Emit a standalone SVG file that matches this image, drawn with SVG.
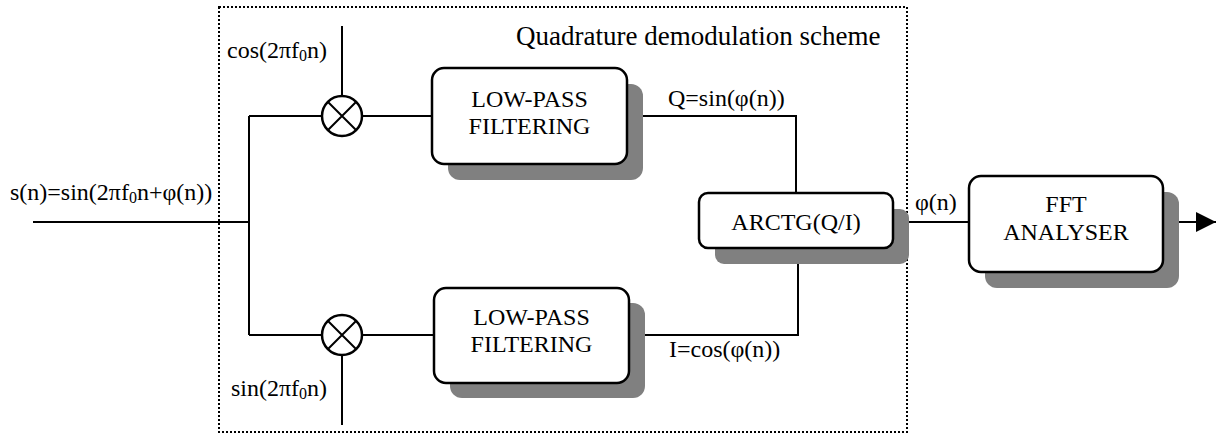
<svg xmlns="http://www.w3.org/2000/svg" width="1218" height="435" viewBox="0 0 1218 435">
<style>
text{font-family:"Liberation Serif","Times New Roman",serif;font-size:24px;fill:#000}
.c{text-anchor:middle}
.ttl{font-size:27px}
.ln{stroke:#000;stroke-width:2;fill:none}
.box{fill:#fff;stroke:#000;stroke-width:2.5}
.sh{fill:#808080}
.sub{font-size:16px}
</style>
<defs>
<marker id="arr" markerWidth="20" markerHeight="20" refX="20" refY="10" orient="auto" markerUnits="userSpaceOnUse">
<path d="M0,0 L20,10 L0,20 Z" fill="#000"/>
</marker>
</defs>
<rect x="219" y="7" width="688" height="425" fill="none" stroke="#000" stroke-width="2" stroke-dasharray="2,2"/>
<text class="ttl" x="516" y="45">Quadrature demodulation scheme</text>
<g id="connectors" class="ln">
<line x1="33" y1="222" x2="249" y2="222"/>
<line x1="249" y1="116" x2="249" y2="335"/>
<line x1="249" y1="116" x2="322" y2="116"/>
<line x1="362" y1="116" x2="432" y2="116"/>
<line x1="342" y1="26" x2="342" y2="96"/>
<line x1="249" y1="335" x2="322" y2="335"/>
<line x1="362" y1="335" x2="434" y2="335"/>
<line x1="342" y1="355" x2="342" y2="425"/>
<polyline points="627,116 796,116 796,193"/>
<polyline points="629,335 798,335 798,248"/>
<line x1="893" y1="222" x2="969" y2="222"/>
<line x1="1163" y1="222" x2="1216" y2="222" marker-end="url(#arr)"/>
</g>
<g id="input-label"><text x="10" y="200">s(n)=sin(2πf<tspan class="sub" dy="3">0</tspan><tspan dy="-3">n+φ(n))</tspan></text></g>
<g id="mixer-top">
<circle cx="342" cy="116" r="20" fill="#fff" stroke="#000" stroke-width="2.5"/>
<path d="M328,102 L356,130 M356,102 L328,130" class="ln" stroke-width="2.5"/>
<text x="227" y="58">cos(2πf<tspan class="sub" dy="3">0</tspan><tspan dy="-3">n)</tspan></text>
</g>
<g id="mixer-bottom">
<circle cx="342" cy="335" r="20" fill="#fff" stroke="#000" stroke-width="2.5"/>
<path d="M328,321 L356,349 M356,321 L328,349" class="ln" stroke-width="2.5"/>
<text x="231" y="396">sin(2πf<tspan class="sub" dy="3">0</tspan><tspan dy="-3">n)</tspan></text>
</g>
<g id="lpf-top">
<rect class="sh" x="448" y="84" width="195" height="96" rx="12"/>
<rect class="box" x="432" y="68" width="195" height="96" rx="12"/>
<text class="c" x="529.5" y="107">LOW-PASS</text>
<text class="c" x="529.5" y="134">FILTERING</text>
</g>
<g id="lpf-bottom">
<rect class="sh" x="450" y="303" width="195" height="95" rx="12"/>
<rect class="box" x="434" y="288" width="195" height="95" rx="12"/>
<text class="c" x="531.5" y="325">LOW-PASS</text>
<text class="c" x="531.5" y="352">FILTERING</text>
</g>
<g id="arctg">
<rect class="sh" x="715" y="209" width="194" height="55" rx="9"/>
<rect class="box" x="699" y="193" width="194" height="55" rx="9"/>
<text class="c" x="796" y="230">ARCTG(Q/I)</text>
</g>
<text x="668" y="106">Q=sin(φ(n))</text>
<text x="669" y="357">I=cos(φ(n))</text>
<text x="915" y="210">φ(n)</text>
<g id="fft">
<rect class="sh" x="985" y="192" width="194" height="96" rx="12"/>
<rect class="box" x="969" y="176" width="194" height="96" rx="12"/>
<text class="c" x="1066" y="212">FFT</text>
<text class="c" x="1066" y="240">ANALYSER</text>
</g>
</svg>
